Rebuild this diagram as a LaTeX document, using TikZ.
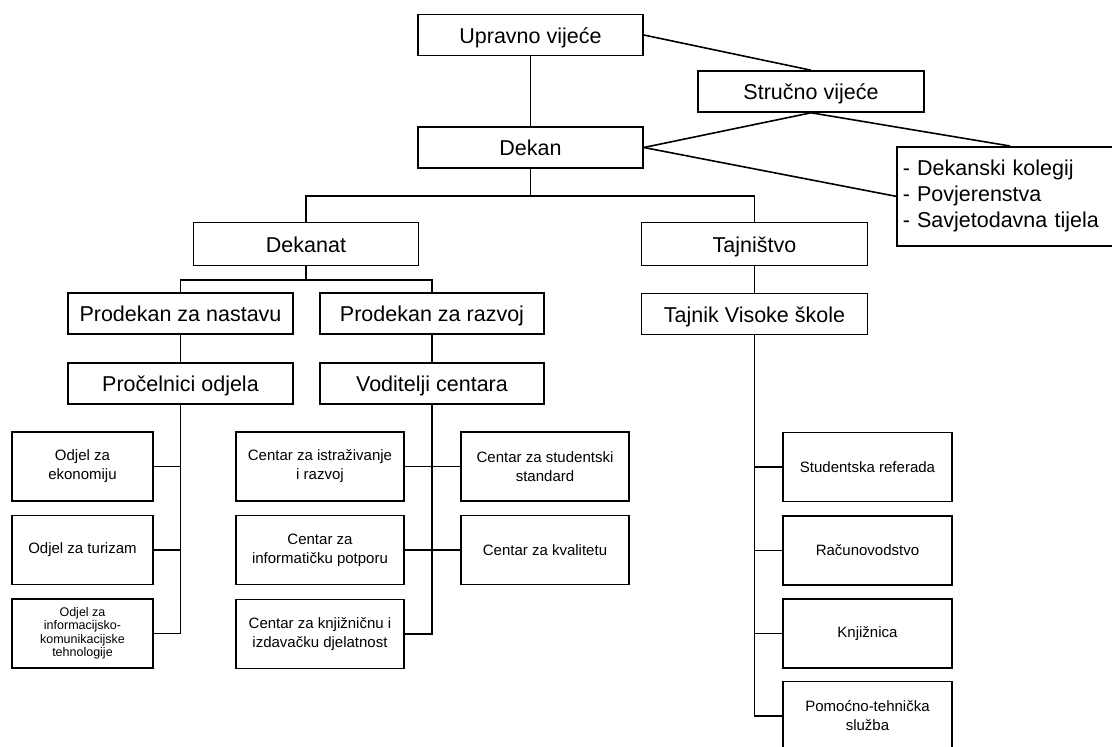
\documentclass[tikz,border=0pt]{standalone}
\usepackage{fontspec}
\setmainfont{Liberation Sans}
\usepackage{tikz}
\usetikzlibrary{positioning,calc}

\begin{document}
\begin{tikzpicture}[x=1pt,y=-1pt,line width=1.6pt,
	bigbox/.style={draw, minimum width=225pt, minimum height=41pt, inner xsep=2pt, inner ysep=3pt, text height=24pt, text depth=8pt, font=\fontsize{21.5}{26}\selectfont},
	smallbox/.style={draw, minimum width=168pt, minimum height=69pt, inner sep=3pt, align=center, font=\fontsize{15}{19}\selectfont},
	tinytext/.style={font=\fontsize{12.5}{13.5}\selectfont}]
			\useasboundingbox (0,0) rectangle (1112,747);
			\clip (0,0) rectangle (1112,747);
			
			% upper levels
			\node[bigbox] (upr) at (530.5,35) {Upravno vijeće};
			\node[bigbox, minimum width=226pt] (str) at (811,91.5) {Stručno vijeće};
			\node[bigbox] (dek) at (530.5,147.5) {Dekan};
			\node[draw, anchor=north west, minimum height=99pt, text width=205pt, inner xsep=6pt, align=left, font=\fontsize{21.5}{26}\selectfont] (lst) at (896,146) {- Dekanski kolegij\\- Povjerenstva\\- Savjetodavna tijela};
			\coordinate (lsttop) at (1010,146);
			
			\node[bigbox, minimum height=43pt] (dkt) at (306,244) {Dekanat};
			\node[bigbox, minimum width=226pt, minimum height=43pt] (taj) at (754.5,244) {Tajništvo};
			
			\node[bigbox] (pnast) at (180.5,313.5) {Prodekan za nastavu};
			\node[bigbox, minimum width=224pt] (praz) at (432,313.5) {Prodekan za razvoj};
			\node[bigbox, minimum width=226pt] (tvs) at (754.5,314) {Tajnik Visoke škole};
			
			\node[bigbox] (proc) at (180.5,383.5) {Pročelnici odjela};
			\node[bigbox, minimum width=224pt] (vod) at (432,383.5) {Voditelji centara};
			
			% odjeli
			\node[smallbox, minimum width=141pt] (oek) at (82.5,466.5) {Odjel za\\ekonomiju};
			\node[smallbox, minimum width=141pt] (otur) at (82.5,550) {Odjel za turizam};
			\node[smallbox, minimum width=141pt, tinytext] (oict) at (82.5,633.5) {Odjel za\\informacijsko-\\komunikacijske\\tehnologije};
			
			% centri
			\node[smallbox] (cir) at (320,466.5) {Centar za istraživanje\\i razvoj};
			\node[smallbox] (cip) at (320,550) {Centar za\\informatičku potporu};
			\node[smallbox] (ckn) at (320,634) {Centar za knjižničnu i\\izdavačku djelatnost};
			\node[smallbox] (css) at (545,466.5) {Centar za studentski\\standard};
			\node[smallbox] (ckv) at (545,550) {Centar za kvalitetu};
			
			% tajnistvo
			\node[smallbox, minimum width=169pt] (sref) at (867.5,467) {Studentska referada};
			\node[smallbox, minimum width=169pt] (rac) at (867.5,550.5) {Računovodstvo};
			\node[smallbox, minimum width=169pt] (knj) at (867.5,633.5) {Knjižnica};
			\node[smallbox, minimum width=169pt] (pom) at (867.5,716) {Pomoćno-tehnička\\služba};
			
			% connectors
			\draw (upr.south) -- (dek.north);
			\draw (upr.east) -- (str.north);
			\draw (dek.east) -- (str.south) -- (lsttop);
			\draw (dek.east) -- (lst.west);
			
			\coordinate (bus1) at (530.5,196);
			\draw (dek.south) -- (bus1);
			\draw (dkt.north) |- (bus1) -| (taj.north);
			
			\coordinate (bus2) at (306,280);
			\draw (dkt.south) -- (bus2);
			\draw (pnast.north) |- (bus2) -| (praz.north);
			\draw (taj.south) -- (tvs.north);
			
			\draw (pnast.south) -- (proc.north);
			\draw (praz.south) -- (vod.north);
			
			\foreach \n in {oek,otur,oict}
				\draw (\n.east) -| (proc.south);
			\foreach \n in {cir,cip,ckn}
				\draw (\n.east) -| (vod.south);
			\foreach \n in {css,ckv}
				\draw (\n.west) -| (vod.south);
			\foreach \n in {sref,rac,knj,pom}
				\draw (\n.west) -| (tvs.south);
		\end{tikzpicture}
\end{document}
